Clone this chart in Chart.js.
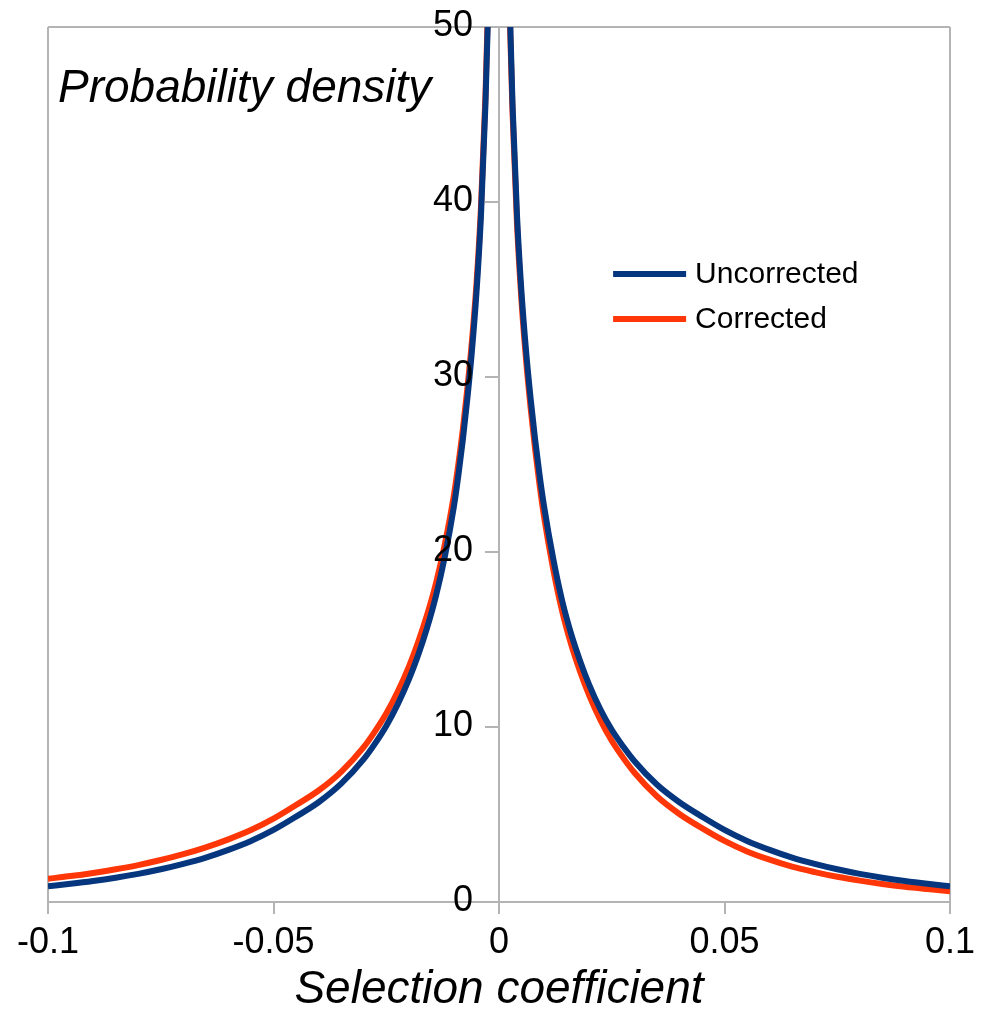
<!DOCTYPE html>
<html>
<head>
<meta charset="utf-8">
<script src="https://cdn.jsdelivr.net/npm/chart.js@4.4.1/dist/chart.umd.min.js"></script>
<style>
  html, body { margin: 0; padding: 0; background: #ffffff; }
  #wrap { width: 988px; height: 1010px; position: relative; }
</style>
</head>
<body>
<div id="wrap"><canvas id="c"></canvas></div>
<script>
// ---- data ----
const selectionCoefficients = [
  -0.1, -0.095, -0.09, -0.085, -0.08, -0.075, -0.07, -0.065, -0.06, -0.055,
  -0.05, -0.045, -0.04, -0.035, -0.03, -0.0275, -0.025, -0.0225, -0.02, -0.018,
  -0.016, -0.014, -0.012, -0.01, -0.009, -0.008, -0.007, -0.006, -0.005, -0.004,
  -0.003, -0.0025, -0.002, -0.0015, -0.001,
  0.001, 0.0015, 0.002, 0.0025, 0.003, 0.004, 0.005, 0.006, 0.007, 0.008,
  0.009, 0.01, 0.012, 0.014, 0.016, 0.018, 0.02, 0.0225, 0.025, 0.0275,
  0.03, 0.035, 0.04, 0.045, 0.05, 0.055, 0.06, 0.065, 0.07, 0.075,
  0.08, 0.085, 0.09, 0.095, 0.1
];
const uncorrected = [
  0.90, 1.04, 1.20, 1.39, 1.61, 1.87, 2.18, 2.54, 2.98, 3.49,
  4.12, 4.88, 5.70, 6.76, 8.16, 9.05, 10.06, 11.28, 12.71, 14.06,
  15.62, 17.47, 19.75, 22.6, 24.4, 26.45, 28.8, 31.5, 34.8, 39.2,
  45.6, 50.1, 56.1, 64.5, 78.5,
  78.5, 64.5, 56.1, 50.1, 45.6, 39.2, 34.8, 31.5, 28.8, 26.45,
  24.4, 22.6, 19.65, 17.22, 15.32, 13.76, 12.41, 11.0, 9.84, 8.9,
  8.06, 6.71, 5.70, 4.88, 4.12, 3.49, 2.98, 2.54, 2.18, 1.87,
  1.61, 1.39, 1.20, 1.04, 0.90
];
const corrected = [
  1.33, 1.48, 1.66, 1.87, 2.11, 2.40, 2.73, 3.12, 3.58, 4.11,
  4.76, 5.54, 6.37, 7.44, 8.85, 9.75, 10.77, 12.0, 13.44, 14.8,
  16.36, 18.19, 20.45, 23.25, 25.03, 27.05, 29.38, 32.05, 35.3, 39.7,
  46.1, 50.6, 56.6, 65.0, 79.0,
  78.0, 64.0, 55.6, 49.6, 45.1, 38.7, 34.3, 30.98, 28.26, 25.89,
  23.82, 22.0, 19.05, 16.62, 14.72, 13.16, 11.81, 10.39, 9.21, 8.25,
  7.40, 6.04, 5.03, 4.22, 3.49, 2.89, 2.42, 2.02, 1.71, 1.44,
  1.22, 1.03, 0.87, 0.74, 0.62
];
const seriesNames = ['Uncorrected', 'Corrected'];
const xTickValues = [-0.1, -0.05, 0, 0.05, 0.1];
const xTickLabels = ['-0.1', '-0.05', '0', '0.05', '0.1'];
const yTickValues = [0, 10, 20, 30, 40, 50];
const yTickLabels = ['0', '10', '20', '30', '40', '50'];
const xAxisTitle = 'Selection coefficient';
const yAxisTitle = 'Probability density';

// ---- styling ----
const FONT = "'Liberation Sans', Arial, sans-serif";
const GRID = '#b4b4b4';
const BLUE = '#06367d';
const RED = '#ff3708';
Chart.defaults.font.family = FONT;
Chart.defaults.color = '#000000';

const toPoints = (ys) => selectionCoefficients.map((x, i) => ({ x: x, y: ys[i] }));

const bgPlugin = {
  id: 'bg',
  beforeDraw(chart) {
    const ctx = chart.ctx;
    ctx.save();
    ctx.fillStyle = '#ffffff';
    ctx.fillRect(0, 0, chart.width, chart.height);
    ctx.restore();
  }
};

const innerTextPlugin = {
  id: 'innerText',
  afterDraw(chart) {
    const ctx = chart.ctx;
    const area = chart.chartArea;
    const xs = chart.scales.x;
    const ys = chart.scales.y;
    ctx.save();
    ctx.fillStyle = '#000000';
    // y tick labels next to the centred y axis
    ctx.font = '36px ' + FONT;
    ctx.textAlign = 'right';
    ctx.textBaseline = 'middle';
    const axisX = xs.getPixelForValue(0);
    yTickValues.forEach((v, i) => {
      ctx.fillText(yTickLabels[i], axisX - 26, ys.getPixelForValue(v) - 1);
    });
    // y axis title inside the plot, top left
    ctx.font = 'italic 46px ' + FONT;
    ctx.textAlign = 'left';
    ctx.textBaseline = 'alphabetic';
    ctx.fillText(chart.options.scales.y.title.text, area.left + 10, area.top + 75);
    // legend
    const lx0 = xs.getPixelForValue(0.0253);
    const lx1 = lx0 + 73;
    const rows = [274, 319];
    ctx.font = '30px ' + FONT;
    ctx.textBaseline = 'middle';
    chart.data.datasets.forEach((ds, i) => {
      ctx.strokeStyle = ds.borderColor;
      ctx.lineWidth = 6;
      ctx.lineCap = 'butt';
      ctx.beginPath();
      ctx.moveTo(lx0, rows[i]);
      ctx.lineTo(lx1, rows[i]);
      ctx.stroke();
      ctx.fillText(ds.label, lx1 + 9, rows[i] + 1);
    });
    ctx.restore();
  }
};

new Chart(document.getElementById('c'), {
  type: 'scatter',
  data: {
    datasets: [
      { label: seriesNames[0], data: toPoints(uncorrected), borderColor: BLUE, backgroundColor: BLUE,
        showLine: true, borderWidth: 6, pointRadius: 0, cubicInterpolationMode: 'monotone', clip: 0 },
      { label: seriesNames[1], data: toPoints(corrected), borderColor: RED, backgroundColor: RED,
        showLine: true, borderWidth: 6, pointRadius: 0, cubicInterpolationMode: 'monotone', clip: 0 }
    ]
  },
  options: {
    responsive: true,
    maintainAspectRatio: false,
    animation: false,
    layout: { padding: { left: 48, right: 38, top: 27, bottom: 0 } },
    plugins: { legend: { display: false }, tooltip: { enabled: false }, title: { display: false } },
    scales: {
      x: {
        type: 'linear',
        min: -0.1, max: 0.1,
        afterBuildTicks: (s) => { s.ticks = xTickValues.map(v => ({ value: v })); },
        afterFit: (s) => { s.height = 108; },
        ticks: {
          padding: 7,
          font: { size: 36 },
          color: '#000000',
          maxRotation: 0,
          autoSkip: false,
          callback: (v, i) => xTickLabels[i]
        },
        grid: {
          drawOnChartArea: true,
          color: (c) => (c.tick && Math.abs(c.tick.value) > 0.09) ? GRID : 'rgba(0,0,0,0)',
          tickColor: GRID,
          tickLength: 12,
          lineWidth: 2
        },
        border: { display: true, color: GRID, width: 2 },
        title: {
          display: true,
          text: xAxisTitle,
          font: { size: 46, style: 'italic', lineHeight: 0.86 },
          padding: { top: 0, bottom: 0 },
          color: '#000000'
        }
      },
      y: {
        type: 'linear',
        position: { x: 0 },
        min: 0, max: 50,
        afterBuildTicks: (s) => { s.ticks = yTickValues.map(v => ({ value: v })); },
        afterFit: (s) => { s.paddingTop = 0; s.paddingBottom = 0; s.paddingLeft = 0; s.paddingRight = 0; },
        ticks: { display: false },
        grid: {
          drawOnChartArea: true,
          color: (c) => (c.tick && c.tick.value === 50) ? GRID : 'rgba(0,0,0,0)',
          tickColor: GRID,
          tickLength: 13,
          lineWidth: 2
        },
        border: { display: true, color: GRID, width: 2 },
        title: { display: false, text: yAxisTitle }
      }
    }
  },
  plugins: [bgPlugin, innerTextPlugin]
});
</script>
</body>
</html>
